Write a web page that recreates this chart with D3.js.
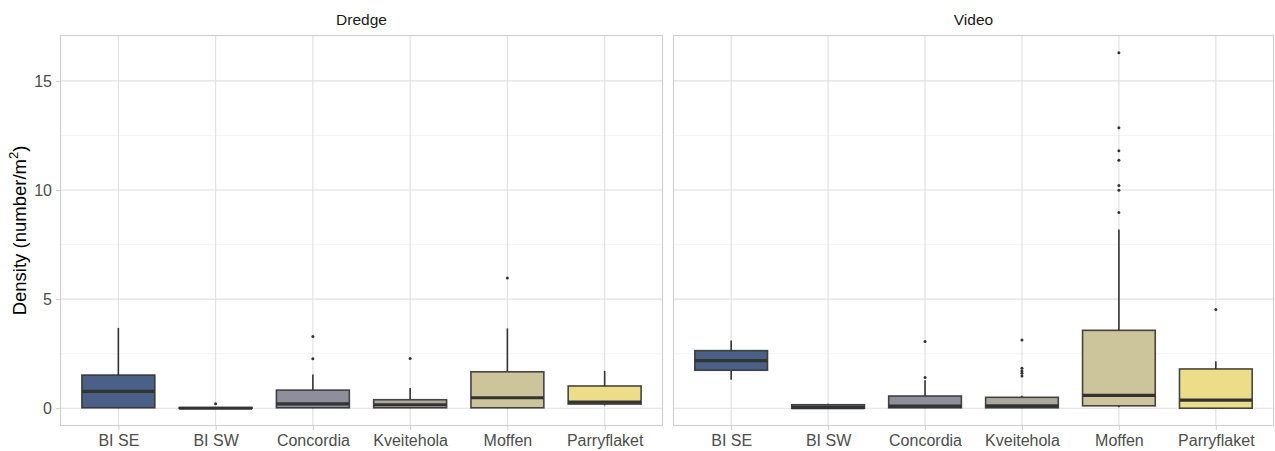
<!DOCTYPE html>
<html>
<head>
<meta charset="utf-8">
<script src="https://cdn.jsdelivr.net/npm/d3@7"></script>
<style>
  html, body { margin: 0; padding: 0; background: #fff; }
  svg { display: block; font-family: "Liberation Sans", Arial, Helvetica, sans-serif; }
</style>
</head>
<body>
<svg id="chart" width="1275" height="451"></svg>
<script>
const categories = ["BI SE", "BI SW", "Concordia", "Kveitehola", "Moffen", "Parryflaket"];
const panels = ["Dredge", "Video"];
const yTicks = [0, 5, 10, 15];
const yMinorTicks = [2.5, 7.5, 12.5];
const fills = ["#4a6086", "#5f6f8f", "#8d909b", "#adaa9c", "#ccc49b", "#ecdd88"];

// Dredge statistics per category
const dredgeLow    = [0.00, 0.00, 0.00, 0.00, 0.00, 0.13];
const dredgeQ1     = [0.02, 0.00, 0.02, 0.02, 0.02, 0.19];
const dredgeMedian = [0.77, 0.00, 0.20, 0.16, 0.48, 0.28];
const dredgeQ3     = [1.52, 0.03, 0.83, 0.39, 1.67, 1.02];
const dredgeHigh   = [3.68, 0.03, 1.54, 0.93, 3.66, 1.71];
const dredgeOutliers = [[], [0.21], [2.27, 3.29], [2.28], [5.97], []];

// Video statistics per category
const videoLow    = [1.31, 0.00, 0.00, 0.00, 0.04, 0.00];
const videoQ1     = [1.74, 0.00, 0.02, 0.02, 0.11, 0.00];
const videoMedian = [2.18, 0.03, 0.10, 0.11, 0.59, 0.37];
const videoQ3     = [2.64, 0.16, 0.56, 0.50, 3.57, 1.80];
const videoHigh   = [3.10, 0.20, 1.28, 0.57, 8.19, 2.15];
const videoOutliers = [[], [], [1.41, 3.06], [1.48, 1.60, 1.71, 1.83, 3.13], [8.97, 9.99, 10.21, 11.37, 11.80, 12.85, 16.29], [4.53]];

const yLabel = "Density (number/m";

const panelData = [
  { name: panels[0], low: dredgeLow, q1: dredgeQ1, med: dredgeMedian, q3: dredgeQ3, high: dredgeHigh, out: dredgeOutliers },
  { name: panels[1], low: videoLow, q1: videoQ1, med: videoMedian, q3: videoQ3, high: videoHigh, out: videoOutliers }
];

const svg = d3.select("#chart");
const plotTop = 35, plotBottom = 426;
const panelX = [[60, 663], [673, 1274]];

const allVals = [];
panelData.forEach(p => { allVals.push(...p.low, ...p.high); p.out.forEach(o => allVals.push(...o)); });
const dMin = d3.min(allVals), dMax = d3.max(allVals);
const padY = (dMax - dMin) * 0.05;
const y = d3.scaleLinear().domain([dMin - padY, dMax + padY]).range([plotBottom, plotTop]);

panelData.forEach((p, pi) => {
  const [x0, x1] = panelX[pi];
  const step = (x1 - x0) / (categories.length - 1 + 1.2);
  const cx = d3.scalePoint().domain(categories).range([x0 + 0.6 * step, x1 - 0.6 * step]);
  const bw = step * 0.75;

  const g = svg.append("g");
  g.append("rect").attr("x", x0).attr("y", plotTop).attr("width", x1 - x0).attr("height", plotBottom - plotTop).attr("fill", "#fff");

  g.selectAll(".ymin").data(yMinorTicks).enter().append("line")
    .attr("x1", x0).attr("x2", x1).attr("y1", d => y(d)).attr("y2", d => y(d))
    .attr("stroke", "#ededed").attr("stroke-width", 0.6);
  g.selectAll(".ymaj").data(yTicks).enter().append("line")
    .attr("x1", x0).attr("x2", x1).attr("y1", d => y(d)).attr("y2", d => y(d))
    .attr("stroke", "#e0e0e0").attr("stroke-width", 1.1);
  g.selectAll(".xmaj").data(categories).enter().append("line")
    .attr("x1", d => cx(d)).attr("x2", d => cx(d)).attr("y1", plotTop).attr("y2", plotBottom)
    .attr("stroke", "#e0e0e0").attr("stroke-width", 1.1);

  categories.forEach((c, i) => {
    const xc = cx(c);
    const bg = g.append("g");
    bg.append("line").attr("x1", xc).attr("x2", xc).attr("y1", y(p.q3[i])).attr("y2", y(p.high[i]))
      .attr("stroke", "#333").attr("stroke-width", 1.6);
    bg.append("line").attr("x1", xc).attr("x2", xc).attr("y1", y(p.q1[i])).attr("y2", y(p.low[i]))
      .attr("stroke", "#333").attr("stroke-width", 1.6);
    bg.append("rect").attr("x", xc - bw / 2).attr("width", bw)
      .attr("y", y(p.q3[i])).attr("height", Math.max(0.5, y(p.q1[i]) - y(p.q3[i])))
      .attr("fill", fills[i]).attr("stroke", "#333").attr("stroke-width", 1.6).attr("stroke-opacity", 0.9);
    bg.append("line").attr("x1", xc - bw / 2).attr("x2", xc + bw / 2).attr("y1", y(p.med[i])).attr("y2", y(p.med[i]))
      .attr("stroke", "#333").attr("stroke-width", 3.2);
    bg.selectAll("circle").data(p.out[i]).enter().append("circle")
      .attr("cx", xc).attr("cy", d => y(d)).attr("r", 1.5).attr("fill", "#333");
  });

  g.append("rect").attr("x", x0 + 0.5).attr("y", plotTop + 0.5).attr("width", x1 - x0 - 1).attr("height", plotBottom - plotTop - 1)
    .attr("fill", "none").attr("stroke", "#cfcfcf").attr("stroke-width", 1.1);

  const xAxis = d3.axisBottom(cx).tickSize(4).tickPadding(5);
  const xa = svg.append("g").attr("transform", `translate(0,${plotBottom})`).call(xAxis);
  xa.select(".domain").remove();
  xa.selectAll(".tick line").attr("stroke", "#cfcfcf");
  xa.selectAll(".tick text").attr("fill", "#4d4d4d").attr("font-size", 16).attr("font-family", "Liberation Sans, Arial, sans-serif");

  svg.append("text").attr("x", (x0 + x1) / 2).attr("y", 25).attr("text-anchor", "middle")
    .attr("font-size", 15.5).attr("fill", "#1a1a1a").text(p.name);
});

const yAxis = d3.axisLeft(y).tickValues(yTicks).tickSize(4).tickPadding(4);
const ya = svg.append("g").attr("transform", `translate(${panelX[0][0]},0)`).call(yAxis);
ya.select(".domain").remove();
ya.selectAll(".tick line").attr("stroke", "#cfcfcf");
ya.selectAll(".tick text").attr("fill", "#4d4d4d").attr("font-size", 16).attr("font-family", "Liberation Sans, Arial, sans-serif");

const yt = svg.append("text").attr("transform", `translate(26,${(plotTop + plotBottom) / 2}) rotate(-90)`)
  .attr("text-anchor", "middle").attr("font-size", 18.5).attr("fill", "#000");
yt.append("tspan").text(yLabel);
yt.append("tspan").attr("font-size", 13).attr("dy", -8).text("2");
yt.append("tspan").attr("dy", 8).text(")");
</script>
</body>
</html>
